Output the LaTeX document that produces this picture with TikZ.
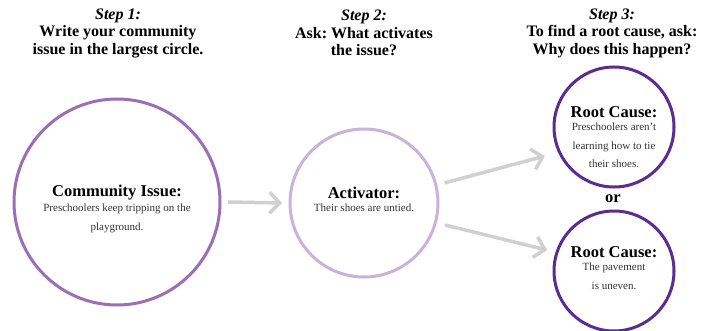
\documentclass[tikz,border=0pt]{standalone}
\usepackage{fontspec}
\setmainfont{Liberation Serif}
\usetikzlibrary{arrows.meta,calc}
\definecolor{pmid}{HTML}{9B6FB8}
\definecolor{plight}{HTML}{C8B3DD}
\definecolor{pdark}{HTML}{5A2D90}
\definecolor{arrgray}{HTML}{D0D0D0}
\definecolor{bodygray}{HTML}{333333}
\frenchspacing
\begin{document}
\begin{tikzpicture}[x=1pt,y=1pt,
  ring/.style={circle,draw,line width=3pt,inner sep=0pt,fill=white},
  header/.style={align=center,font=\fontsize{16}{17.5}\selectfont\bfseries,text=black},
  ttl/.style={font=\fontsize{16.5}{18}\selectfont\bfseries,text=black,inner sep=0pt},
  body/.style={align=center,font=\fontsize{11}{18.5}\selectfont,text=bodygray,inner sep=0pt},
  arr/.style={draw=arrgray,line width=3.5pt,-{Straight Barb[length=10pt,width=21pt]}}]
\useasboundingbox (0,0) rectangle (702,330);
\fill[white] (0,0) rectangle (702,330);
% headers
\node[header] (h1) at (118,297) {\textit{Step 1:}\\Write your community\\issue in the largest circle.};
\node[header] (h2) at (364,297) {\textit{Step 2:}\\Ask: What activates\\the issue?};
\node[header] (h3) at (612,297) {\textit{Step 3:}\\To find a root cause, ask:\\Why does this happen?};
% circles
\node[ring,draw=pmid,minimum size=206pt] (big) at (117,128) {};
\node[ring,draw=plight,minimum size=148pt] (act) at (364,127) {};
\node[ring,draw=pdark,minimum size=120pt] (rc1) at (614,203) {};
\node[ring,draw=pdark,minimum size=120pt] (rc2) at (614,59) {};
% texts
\node[ttl] (t1) at (117,137) {Community Issue:};
\node[body,anchor=north] (b1) at (117,126) {Preschoolers keep tripping on the\\playground.};
\node[ttl] (t2) at (364,137) {Activator:};
\node[body,anchor=north] (b2) at (364,126) {Their shoes are untied.};
\node[ttl] (t3) at (614,218) {Root Cause:};
\node[body,anchor=north] (b3) at (614,207) {Preschoolers aren't\\learning how to tie\\their shoes.};
\node[ttl] (or) at (613,131) {or};
\node[ttl] (t4) at (614,78) {Root Cause:};
\node[body,anchor=north] (b4) at (614,67) {The pavement\\is uneven.};
% arrows
\draw[arr] ($(big.center)+(0:111)$) -- ($(act.center)+(180:82)$);
\draw[arr] ($(act.center)+(14:83)$) -- ($(rc1.center)+(202.8:75)$);
\draw[arr] ($(act.center)+(-15.2:84)$) -- ($(rc2.center)+(162.6:70)$);
\end{tikzpicture}
\end{document}
